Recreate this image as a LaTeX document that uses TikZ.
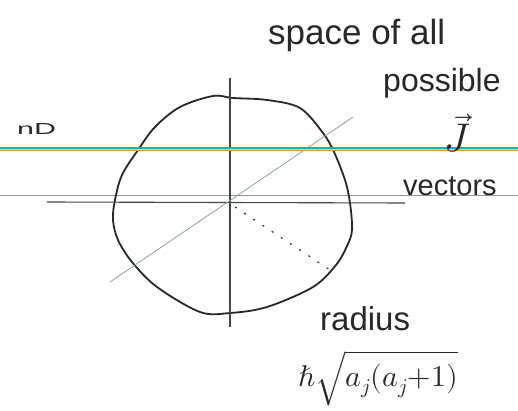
\documentclass[tikz,border=0pt]{standalone}
\usepackage{fontspec}
\usepackage{unicode-math}
\setmainfont{Liberation Sans}
\setmathfont{Latin Modern Math}
\definecolor{ink}{RGB}{40,40,40}
\definecolor{penc}{RGB}{70,70,70}
\definecolor{cyanline}{RGB}{20,175,200}
\definecolor{orangeline}{RGB}{235,150,40}
\definecolor{yellowline}{RGB}{240,215,60}
\definecolor{greyline}{RGB}{150,150,150}
\definecolor{diagcol}{RGB}{140,165,150}
\begin{document}
\begin{tikzpicture}[x=1pt,y=-1pt,
  hand/.style={inner sep=0pt, text=ink, anchor=base west},
  axisline/.style={draw=penc, line width=1.1pt},
  blob/.style={draw=ink, line width=1.8pt},
]
\useasboundingbox (0,0) rectangle (518,411);
\fill[white] (0,0) rectangle (518,411);
% ruled paper lines
\coordinate (cl) at (0,148); \coordinate (cr) at (518,148);
\coordinate (yl) at (0,149.6); \coordinate (yr) at (518,149.6);
\coordinate (ol) at (0,150.6); \coordinate (or) at (518,150.6);
\coordinate (gl) at (0,195); \coordinate (gr) at (518,195);
\draw[greyline, line width=0.8pt] (gl) -- (gr);
% blob
\draw[blob] plot[smooth cycle, tension=0.55] coordinates {
 (213,96) (233,98) (267,100) (300,108) (323,133) (334,152) (345,180) (350,203)
 (352,230) (347,246) (336,265) (313,287) (267,307) (230,313) (200,312)
 (157,287) (132,262) (118,240) (113,220) (115,200) (122,175) (138,150)
 (155,127) (180,107)};
% axes
\coordinate (o) at (230,202);
\coordinate (vt) at (230,78); \coordinate (vb) at (230,327);
\coordinate (hl) at (47,202); \coordinate (hr) at (405,203);
\draw[axisline] (vt) -- (vb);
\draw[axisline] (hl) -- (hr);
% diagonal
\coordinate (dl) at (110,282); \coordinate (dr) at (353,117);
\draw[diagcol, line width=0.8pt] (dl) -- (dr);
% dotted radius
\coordinate (r0) at (235,207); \coordinate (r1) at (330,270);
\draw[ink, line width=1.1pt, dash pattern=on 2pt off 9pt] (r0) -- (r1);
% coloured lines over blob
\draw[cyanline, line width=1.3pt] (cl) -- (cr);
\draw[yellowline, line width=0.6pt] (yl) -- (yr);
\draw[orangeline, line width=0.6pt] (ol) -- (or);
% texts
\node[hand, font=\fontsize{35}{40}\selectfont] (t1) at (268,45) {space of all};
\node[hand, font=\fontsize{32}{36}\selectfont] (t2) at (383,92) {possible};
\node[inner sep=0pt, text=ink, font=\fontsize{40}{44}\selectfont] (tj) at (458,133) {$\vec{J}$};
\node[hand, font=\fontsize{29}{34}\selectfont] (t3) at (403,196) {vectors};
\node[hand, font=\fontsize{16}{18}\selectfont] (tn) at (17,135) {\scalebox{1.9}[1]{nD}};
\node[hand, font=\fontsize{33}{38}\selectfont] (t4) at (320,330) {radius};
\node[hand, font=\fontsize{30}{36}\selectfont] (t5) at (298,386) {$\hbar\sqrt{a_j(a_j{+}1)}$};
\end{tikzpicture}
\end{document}
